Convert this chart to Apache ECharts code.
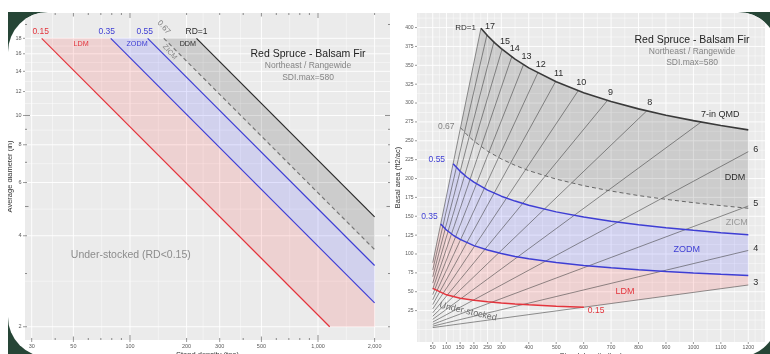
<!DOCTYPE html>
<html>
<head>
<meta charset="utf-8">
<script src="https://cdn.jsdelivr.net/npm/echarts@6/dist/echarts.min.js"></script>
<style>
  html, body { margin: 0; padding: 0; background: #fff; }
  #frame { position: relative; width: 770px; height: 354px; overflow: hidden; }
  #slide { position: absolute; left: 8px; top: 12px; width: 762px; height: 342px; background: #264536; }
  #card { position: absolute; left: 8px; top: 12px; width: 770px; height: 345px; background: #fff;
          border-radius: 40px; overflow: hidden; }
  #main { position: absolute; left: -8px; top: -12px; width: 770px; height: 354px; }
</style>
</head>
<body>
<div id="frame">
  <div id="slide"></div>
  <div id="card"><div id="main"></div></div>
</div>
<script>
// ---- left panel: stand density (tpa) vs average diameter (in), log-log ----
const tpaBreaks = [30, 50, 100, 200, 300, 500, 1000, 2000];
const tpaBreakLabels = ['30', '50', '100', '200', '300', '500', '1,000', '2,000'];
const diaBreaks = [2, 4, 6, 8, 10, 12, 14, 16, 18];
const tpaLogTicks = [30, 40, 50, 60, 70, 80, 90, 100, 200, 300, 400, 500, 600, 700, 800, 900, 1000, 2000];
const diaLogTicks = [2, 3, 4, 5, 6, 7, 8, 9, 10, 20];

// relative density lines, [tpa, diameter] at the ends
const rd015Dia = [[33.9, 18], [1154, 2]];
const rd035Dia = [[79.0, 18], [2000, 2.40]];
const rd055Dia = [[124.2, 18], [2000, 3.19]];
const rd067Dia = [[151.3, 18], [2000, 3.60]];
const rd100Dia = [[225.8, 18], [2000, 4.62]];
const diaCorner = [2000, 2];

// ---- right panel: stand density (tpa) vs basal area (ft2/ac) ----
const tpaBreaksBA = [50, 100, 150, 200, 250, 300, 400, 500, 600, 700, 800, 900, 1000, 1100, 1200];
const baBreaks = [25, 50, 75, 100, 125, 150, 175, 200, 225, 250, 275, 300, 325, 350, 375, 400];

const rd100BA = [[225.8, 399.1], [250, 389.1], [275, 380.1], [300, 372.1], [350, 358.2], [400, 346.6], [500, 328.1],
  [600, 313.7], [700, 302.0], [800, 292.3], [900, 283.9], [1000, 276.7], [1100, 270.2], [1200, 264.5]];
const rd067BA = [[151.3, 267.3], [175, 257.9], [200, 249.6], [250, 236.2], [300, 225.9], [350, 217.5], [400, 210.4],
  [500, 199.2], [600, 190.5], [700, 183.4], [800, 177.4], [900, 172.4], [1000, 168.0], [1100, 164.1], [1200, 160.6]];
const rd055BA = [[124.2, 219.5], [150, 209.5], [175, 201.7], [200, 195.2], [250, 184.7], [300, 176.6], [350, 170.1],
  [400, 164.6], [500, 155.8], [600, 148.9], [700, 143.4], [800, 138.8], [900, 134.8], [1000, 131.3], [1100, 128.3], [1200, 125.6]];
const rd035BA = [[79.0, 139.7], [100, 131.8], [125, 124.8], [150, 119.3], [200, 111.1], [250, 105.2], [300, 100.6],
  [350, 96.8], [400, 93.7], [500, 88.7], [600, 84.8], [700, 81.7], [800, 79.0], [900, 76.8], [1000, 74.8], [1100, 73.1], [1200, 71.5]];
const rd015BA = [[50, 54.4], [100, 45.9], [150, 41.5], [200, 38.7], [250, 36.6], [300, 35.0], [350, 33.7],
  [400, 32.6], [500, 30.9], [600.7, 29.5]];

// quadratic mean diameter lines: start at 50 tpa, end on RD=1 or at 1200 tpa
const qmdClasses = [18, 17, 16, 15, 14, 13, 12, 11, 10, 9, 8, 7, 6, 5, 4, 3];
const qmdStart = [[50, 88.4], [50, 78.8], [50, 69.8], [50, 61.4], [50, 53.4], [50, 46.1], [50, 39.3], [50, 33.0],
  [50, 27.3], [50, 22.1], [50, 17.5], [50, 13.4], [50, 9.8], [50, 6.8], [50, 4.4], [50, 2.5]];
const qmdEnd = [[225.8, 399.1], [247.6, 390.3], [272.8, 380.9], [302.6, 371.3], [338.0, 361.3], [380.7, 350.9],
  [432.8, 339.9], [497.7, 328.5], [580, 316.3], [686.9, 303.5], [829.8, 289.6], [1028, 274.8],
  [1200, 235.6], [1200, 163.6], [1200, 104.7], [1200, 58.9]];
const qmdLabels = ['', '17', '', '15', '14', '13', '12', '11', '10', '9', '8', '7-in QMD', '6', '5', '4', '3'];

// ---- styling ----
const FONT = '"Liberation Sans", Arial, sans-serif';
const RED = '#E3343C';
const BLUE = '#3E3ED4';
const DARK = '#2b2b2b';
const PINK_FILL = 'rgba(255,40,40,0.13)';
const BLUE_FILL = 'rgba(60,60,255,0.14)';
const GREY_FILL = 'rgba(0,0,0,0.13)';
const LIGHT_FILL = 'rgba(0,0,0,0.06)';

function midLog(arr) {
  const out = [];
  for (let i = 0; i < arr.length - 1; i++) out.push(Math.sqrt(arr[i] * arr[i + 1]));
  return out;
}
function midLin(arr) {
  const out = [];
  for (let i = 0; i < arr.length - 1; i++) out.push((arr[i] + arr[i + 1]) / 2);
  return out;
}

function gridLines(ax, values, vertical, ref, width) {
  return {
    type: 'custom', xAxisIndex: ax, yAxisIndex: ax, z: 1, silent: true,
    data: values.map(v => vertical ? [v, ref] : [ref, v]),
    renderItem(params, api) {
      const cs = params.coordSys;
      const p = api.coord([api.value(0), api.value(1)]);
      const shape = vertical
        ? {x1: p[0], y1: cs.y, x2: p[0], y2: cs.y + cs.height}
        : {x1: cs.x, y1: p[1], x2: cs.x + cs.width, y2: p[1]};
      return {type: 'line', shape, style: {stroke: '#ffffff', lineWidth: width}};
    }
  };
}

function xTicks(ax, values, texts, ref, size) {
  return {
    type: 'custom', xAxisIndex: ax, yAxisIndex: ax, z: 5, silent: true,
    data: values.map(v => [v, ref]),
    renderItem(params, api) {
      const cs = params.coordSys;
      const x = api.coord([api.value(0), api.value(1)])[0];
      const y0 = cs.y + cs.height;
      return {type: 'group', children: [
        {type: 'line', shape: {x1: x, y1: y0, x2: x, y2: y0 + 2}, style: {stroke: '#555', lineWidth: 0.6}},
        {type: 'text', x: x, y: y0 + 3.2, style: {text: texts[params.dataIndex], fill: '#5a5a5a',
          font: size + 'px ' + FONT, align: 'center', verticalAlign: 'top'}}
      ]};
    }
  };
}

function yTicks(ax, values, texts, ref, size) {
  return {
    type: 'custom', xAxisIndex: ax, yAxisIndex: ax, z: 5, silent: true,
    data: values.map(v => [ref, v]),
    renderItem(params, api) {
      const cs = params.coordSys;
      const y = api.coord([api.value(0), api.value(1)])[1];
      return {type: 'group', children: [
        {type: 'line', shape: {x1: cs.x - 2, y1: y, x2: cs.x, y2: y}, style: {stroke: '#555', lineWidth: 0.6}},
        {type: 'text', x: cs.x - 3.5, y: y, style: {text: texts[params.dataIndex], fill: '#5a5a5a',
          font: size + 'px ' + FONT, align: 'right', verticalAlign: 'middle'}}
      ]};
    }
  };
}

// annotation_logticks style marks on all four edges of the log panel
function logTickLen(v) {
  const m = v / Math.pow(10, Math.floor(Math.log10(v) + 1e-9));
  if (Math.abs(m - 1) < 1e-6) return 5;
  if (Math.abs(m - 5) < 1e-6) return 3.5;
  return 2;
}
function logTicks(ax, values, vertical, ref) {
  return {
    type: 'custom', xAxisIndex: ax, yAxisIndex: ax, z: 5, silent: true,
    data: values.map(v => vertical ? [v, ref] : [ref, v]),
    renderItem(params, api) {
      const cs = params.coordSys;
      const p = api.coord([api.value(0), api.value(1)]);
      const len = logTickLen(values[params.dataIndex]);
      const st = {stroke: '#444', lineWidth: 0.6};
      const kids = vertical ? [
        {type: 'line', shape: {x1: p[0], y1: cs.y + cs.height, x2: p[0], y2: cs.y + cs.height - len}, style: st},
        {type: 'line', shape: {x1: p[0], y1: cs.y, x2: p[0], y2: cs.y + len}, style: st}
      ] : [
        {type: 'line', shape: {x1: cs.x, y1: p[1], x2: cs.x + len, y2: p[1]}, style: st},
        {type: 'line', shape: {x1: cs.x + cs.width, y1: p[1], x2: cs.x + cs.width - len, y2: p[1]}, style: st}
      ];
      return {type: 'group', children: kids};
    }
  };
}

function band(ax, points, fill) {
  return {
    type: 'custom', xAxisIndex: ax, yAxisIndex: ax, z: 2, silent: true,
    data: [points[0]],
    renderItem(params, api) {
      return {type: 'polygon', shape: {points: points.map(p => api.coord(p))}, style: {fill: fill}};
    }
  };
}

function line(ax, data, color, width, dashed) {
  return {
    type: 'line', xAxisIndex: ax, yAxisIndex: ax, data: data, z: 3, silent: true,
    showSymbol: false, symbol: 'none',
    lineStyle: {color: color, width: width, type: dashed ? [4, 3] : 'solid'}
  };
}

function notes(ax, list) {
  return {
    type: 'custom', xAxisIndex: ax, yAxisIndex: ax, z: 6, silent: true,
    data: list.map(n => n.at),
    renderItem(params, api) {
      const n = list[params.dataIndex];
      const p = api.coord(n.at);
      return {type: 'text', x: p[0] + (n.dx || 0), y: p[1] + (n.dy || 0), rotation: n.rot || 0,
        style: {text: n.text, fill: n.color, font: n.font, align: n.align || 'center', verticalAlign: 'middle'}};
    }
  };
}

const rev = a => a.slice().reverse();

const leftNotes = [
  {at: rd015Dia[0], text: '0.15', color: RED, font: '8.5px ' + FONT, dx: -1, dy: -7},
  {at: rd035Dia[0], text: '0.35', color: BLUE, font: '8.5px ' + FONT, dx: -4, dy: -7},
  {at: rd055Dia[0], text: '0.55', color: BLUE, font: '8.5px ' + FONT, dx: -3, dy: -7},
  {at: rd067Dia[0], text: '0.67', color: '#808080', font: '8px ' + FONT, dx: 0, dy: -11, rot: -0.85},
  {at: rd100Dia[0], text: 'RD=1', color: DARK, font: '8.5px ' + FONT, dx: 0, dy: -7},
  {at: [55, 17.2], text: 'LDM', color: RED, font: '7.2px ' + FONT},
  {at: [109, 17.2], text: 'ZODM', color: BLUE, font: '7.2px ' + FONT},
  {at: [163, 16.2], text: 'ZICM', color: '#8a8a8a', font: '7.2px ' + FONT, rot: -0.85},
  {at: [203, 17.2], text: 'DDM', color: DARK, font: '7.2px ' + FONT},
  {at: [101, 3.45], text: 'Under-stocked (RD<0.15)', color: '#8c8c8c', font: '10.5px ' + FONT}
];

const rightNotes = [
  {at: rd100BA[0], text: 'RD=1', color: DARK, font: '8px ' + FONT, align: 'right', dx: -5, dy: 0},
  {at: rd067BA[0], text: '0.67', color: '#808080', font: '8.5px ' + FONT, align: 'right', dx: -6, dy: -1},
  {at: rd055BA[0], text: '0.55', color: BLUE, font: '8.5px ' + FONT, align: 'right', dx: -8, dy: -4},
  {at: rd035BA[0], text: '0.35', color: BLUE, font: '8.5px ' + FONT, align: 'right', dx: -3, dy: -7},
  {at: rd015BA[rd015BA.length - 1], text: '0.15', color: RED, font: '8.5px ' + FONT, align: 'left', dx: 4, dy: 3},
  {at: [1152, 201], text: 'DDM', color: DARK, font: '9px ' + FONT},
  {at: [1158, 142], text: 'ZICM', color: '#999999', font: '9px ' + FONT},
  {at: [976, 106], text: 'ZODM', color: BLUE, font: '9px ' + FONT},
  {at: [751, 50], text: 'LDM', color: RED, font: '9px ' + FONT},
  {at: [179, 23.6], text: 'Under-stocked', color: '#6a6a6a', font: '9px ' + FONT, rot: -0.23}
];
qmdEnd.forEach((p, i) => {
  if (!qmdLabels[i]) return;
  const atEdge = p[0] >= 1200;
  rightNotes.push({
    at: p, text: qmdLabels[i], color: DARK, font: '9px ' + FONT,
    align: (atEdge || qmdLabels[i].length > 2) ? 'left' : 'center',
    dx: atEdge ? 5 : (qmdLabels[i].length > 2 ? 0 : 3), dy: atEdge ? -2 : -8
  });
});

const series = [
  // left panel grid
  gridLines(0, midLog(tpaBreaks), true, 10, 0.45),
  gridLines(0, tpaBreaks, true, 10, 0.9),
  gridLines(0, midLog(diaBreaks), false, 100, 0.45),
  gridLines(0, diaBreaks, false, 100, 0.9),
  // left panel bands
  band(0, rd100Dia.concat(rev(rd067Dia)), GREY_FILL),
  band(0, rd067Dia.concat(rev(rd055Dia)), LIGHT_FILL),
  band(0, rd055Dia.concat(rev(rd035Dia)), BLUE_FILL),
  band(0, rd035Dia.concat([diaCorner], rev(rd015Dia)), PINK_FILL),
  // left panel lines
  line(0, rd015Dia, RED, 1.2),
  line(0, rd035Dia, BLUE, 1.2),
  line(0, rd055Dia, BLUE, 1.2),
  line(0, rd067Dia, '#777777', 1.2, true),
  line(0, rd100Dia, DARK, 1.2),
  xTicks(0, tpaBreaks, tpaBreakLabels, 10, 5.5),
  yTicks(0, diaBreaks, diaBreaks.map(String), 100, 5.5),
  logTicks(0, tpaLogTicks, true, 10),
  logTicks(0, diaLogTicks, false, 100),
  notes(0, leftNotes),

  // right panel grid
  gridLines(1, [0, 25].concat(midLin(tpaBreaksBA), [1225, 1250]), true, 100, 0.45),
  gridLines(1, tpaBreaksBA, true, 100, 0.9),
  gridLines(1, [0, 12.5].concat(midLin(baBreaks), [412.5]), false, 100, 0.45),
  gridLines(1, baBreaks, false, 100, 0.9),
  // right panel bands
  band(1, rd100BA.concat(rev(rd067BA)), GREY_FILL),
  band(1, rd067BA.concat(rev(rd055BA)), LIGHT_FILL),
  band(1, rd055BA.concat(rev(rd035BA)), BLUE_FILL),
  band(1, rd035BA.concat([qmdEnd[15]], rev(rd015BA), [qmdStart[0]]), PINK_FILL)
];
// right panel QMD fan
qmdClasses.forEach((d, i) => series.push(line(1, [qmdStart[i], qmdEnd[i]], '#3a3a3a', 0.55)));
series.push(
  line(1, rd015BA, RED, 1.5),
  line(1, rd035BA, BLUE, 1.5),
  line(1, rd055BA, BLUE, 1.5),
  line(1, rd067BA, '#666666', 1, true),
  line(1, rd100BA, '#3a3a3a', 1.6),
  xTicks(1, tpaBreaksBA, tpaBreaksBA.map(String), 100, 5.2),
  yTicks(1, baBreaks, baBreaks.map(String), 100, 5),
  notes(1, rightNotes)
);

const axisHidden = {axisLine: {show: false}, axisTick: {show: false}, axisLabel: {show: false}, splitLine: {show: false}};
const nameStyle = {color: '#333', fontSize: 7.5, fontFamily: FONT};

function titleBlock(cx, y0) {
  return [
    {type: 'text', z: 100, x: cx, y: y0, style: {text: 'Red Spruce - Balsam Fir', fill: '#222', font: '10.5px ' + FONT, align: 'center', verticalAlign: 'middle'}},
    {type: 'text', z: 100, x: cx, y: y0 + 11.5, style: {text: 'Northeast / Rangewide', fill: '#858585', font: '8.5px ' + FONT, align: 'center', verticalAlign: 'middle'}},
    {type: 'text', z: 100, x: cx, y: y0 + 23, style: {text: 'SDI.max=580', fill: '#858585', font: '8.5px ' + FONT, align: 'center', verticalAlign: 'middle'}}
  ];
}

const chart = echarts.init(document.getElementById('main'));
chart.setOption({
  animation: false,
  grid: [
    {left: 25, top: 13, width: 365, height: 327, show: true, backgroundColor: '#EBEBEB', borderWidth: 0,
      outerBoundsMode: 'none', containLabel: false},
    {left: 417, top: 13, width: 348, height: 329, show: true, backgroundColor: '#EBEBEB', borderWidth: 0,
      outerBoundsMode: 'none', containLabel: false}
  ],
  xAxis: [
    Object.assign({type: 'log', gridIndex: 0, min: 27.64, max: 2415, name: 'Stand density (tpa)',
      nameLocation: 'middle', nameGap: 11, nameTextStyle: nameStyle}, axisHidden),
    Object.assign({type: 'value', gridIndex: 1, min: -7.3, max: 1260.9, name: 'Stand density (tpa)',
      nameLocation: 'middle', nameGap: 10, nameTextStyle: nameStyle}, axisHidden)
  ],
  yAxis: [
    Object.assign({type: 'log', gridIndex: 0, min: 1.808, max: 21.83, name: 'Average diameter (in)',
      nameLocation: 'middle', nameGap: 11, nameTextStyle: nameStyle}, axisHidden),
    Object.assign({type: 'value', gridIndex: 1, min: -16.6, max: 419.3, name: 'Basal area (ft2/ac)',
      nameLocation: 'middle', nameGap: 15, nameTextStyle: nameStyle}, axisHidden)
  ],
  graphic: titleBlock(308, 54.5).concat(titleBlock(692, 40)),
  series: series
});
</script>
</body>
</html>
